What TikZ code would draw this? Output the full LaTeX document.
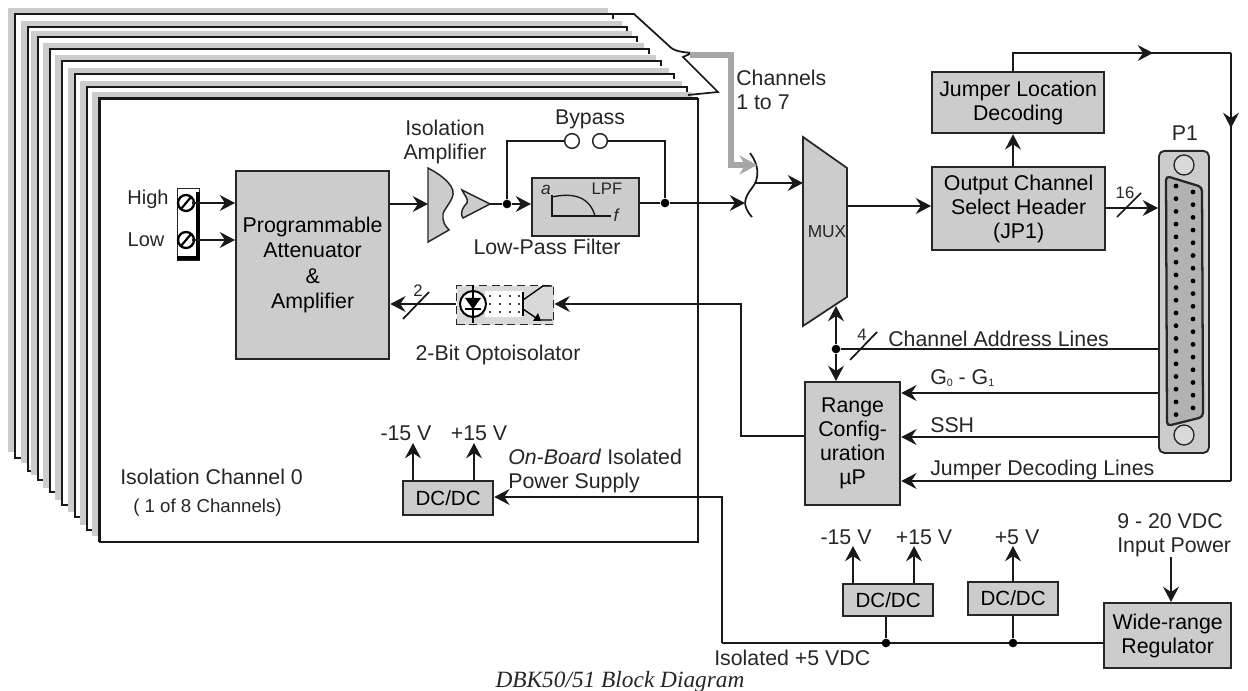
\documentclass[tikz,border=0pt]{standalone}
\usepackage{fontspec}
\setmainfont{Liberation Sans}
\newfontfamily\captionfont{Liberation Serif}
\usepackage{tikz}
\usetikzlibrary{
    positioning,
    arrows.meta,
    calc
}
\tikzset{
    % Grey function blocks
    block_node/.style={
        rectangle, draw=black!85, fill=black!20, line width=1.7pt,
        inner sep=0pt, align=center, anchor=north west
    },
    % Plain text labels
    label_node/.style={inner sep=0pt, align=center, text=black!85},
    left_label/.style={inner sep=0pt, align=left, anchor=west, text=black!85},
    dc_text/.style={font=\fontsize{15.4}{18}\selectfont},
    tiny_text/.style={font=\fontsize{12.5}{14}\selectfont},
    % One sheet of the channel stack
    sheet_back/.style={fill=black!20, draw=none},
    sheet_front/.style={fill=white, draw=none},
    sheet_edge/.style={draw=black!90, line width=1.5pt},
    % Signal lines
    signal_arrow/.style={-{Stealth[length=11.5pt,width=12pt,inset=4pt]}, line width=1.3pt, draw=black!90},
    signal_line/.style={line width=1.3pt, draw=black!90},
    power_arrow/.style={signal_arrow, line width=1.5pt},
    channel_arrow/.style={-{Stealth[length=13pt,width=14pt,inset=4pt]}, line width=4.2pt, draw=black!35},
    junction_node/.style={circle, fill=black, inner sep=0pt, minimum size=6.5pt},
    open_node/.style={circle, draw=black!85, fill=white, line width=1.1pt, inner sep=0pt, minimum size=11pt},
    pin_node/.style={circle, fill=black, inner sep=0pt, minimum size=3.6pt},
    screw_node/.style={circle, draw=black, fill=white, line width=1.7pt, inner sep=0pt, minimum size=12pt}
}
\begin{document}
\begin{tikzpicture}[x=0.75pt, y=-0.75pt, font=\fontsize{16}{18}\selectfont]
\useasboundingbox (0,0) rectangle (1248,691);

% --- STACK OF CHANNEL SHEETS ---
\foreach \ox/\oy/\ex/\gy/\by in {15/14/613/452/458, 28/27/627/463/471, 38/37/637/475/480, 50/49/649/488/492, 62/61/661/500/505, 75/74/674/512/517, 87/87/687/525/530, 99/98/697/536/541}{
    \fill[sheet_back] ({\ox-7},{\oy-6}) rectangle ({\ex-5},{\gy});
    \fill[sheet_front] ({\ox},{\oy}) rectangle (\ex,{\by+10});
    \draw[sheet_edge] (\ex,{\oy+5}) -- (\ex,\oy) -- (\ox,\oy) -- (\ox,\by) -- ({\ox+6},\by);
}
\node (front_sheet) [rectangle, draw=black!90, fill=white, line width=1.5pt, minimum width=448.5pt, minimum height=332.25pt, anchor=north west, inner sep=0pt] at (99,98) {};

% --- TERMINAL BLOCK ---
\node (term_box) [rectangle, draw=black!85, line width=0.9pt, minimum width=16.5pt, minimum height=54pt, anchor=north west, inner sep=0pt] at (177,188) {};
\draw[black, line width=3pt] (198,192) -- (198,258) -- (177,258);
\node (high_screw) [screw_node] at (186,203) {};
\node (low_screw) [screw_node] at (186,240) {};
\draw[black, line width=1.6pt] (181,209) -- (191,197) (181,246) -- (191,234);
\node (high_lbl) [label_node, font=\fontsize{15}{18}\selectfont] at (148,199) {High};
\node (low_lbl) [label_node, font=\fontsize{15}{18}\selectfont] at (146,240) {Low};

% --- MAIN BLOCKS ---
\node (atten) [block_node, minimum width=114.75pt, minimum height=141pt] at (235,170) {Programmable\\[1pt]Attenuator\\[1pt]\&\\[1pt]Amplifier};
\node (lpf) [block_node, minimum width=80.25pt, minimum height=43.5pt] at (531,177) {};
\node (out_sel) [block_node, minimum width=129.75pt, minimum height=62.25pt] at (931,166) {Output Channel\\Select Header\\(JP1)};
\node (jumper) [block_node, minimum width=129pt, minimum height=45.75pt] at (931,71) {Jumper Location\\Decoding};
\node (range) [block_node, minimum width=71.25pt, minimum height=92.25pt] at (804,381) {Range\\Config-\\uration\\\textmu P};
\node (iso_dc) [block_node, dc_text, minimum width=67.5pt, minimum height=25.5pt] at (402,480) {DC/DC};
\node (dc_a) [block_node, dc_text, minimum width=67.5pt, minimum height=24pt] at (842,583) {DC/DC};
\node (dc_b) [block_node, dc_text, minimum width=67.5pt, minimum height=24.75pt] at (967,581) {DC/DC};
\node (regulator) [block_node, minimum width=95.25pt, minimum height=48.75pt] at (1103,602) {Wide-range\\Regulator};

% MUX outline
\draw[draw=black!85, fill=black!20, line width=1.3pt] (803,137) -- (847,168) -- (847,297) -- (803,326) -- cycle;
\node (mux_lbl) [label_node, font=\fontsize{13}{18}\selectfont] at (827,232) {MUX};

% --- ISOLATION AMPLIFIER ---
\coordinate (amp_in) at (428,204);
\coordinate (amp_out) at (490,204);
\draw[draw=black!85, fill=black!20, line width=1.1pt] (428,168) .. controls (445,177) and (457,188) .. (452,198) .. controls (448,207) and (441,212) .. (443,219) .. controls (444,226) and (448,228) .. (449,230) -- (428,242) -- cycle;
\draw[draw=black!85, fill=black!20, line width=1.1pt] (462,190) -- (490,204) -- (463,218) .. controls (459,212) and (464,206) .. (467,203) .. controls (469,199) and (464,195) .. (462,190) -- cycle;
\node (amp_lbl) [label_node] at (445,142) {Isolation\\Amplifier};

% --- LOW-PASS FILTER DETAIL ---
\node (lpf_tag) [label_node, tiny_text] at (607,189) {LPF};
\node (lpf_a) [label_node, font=\fontsize{13}{14}\selectfont\itshape] at (546,190) {a};
\node (lpf_f) [label_node, font=\fontsize{13}{14}\selectfont\itshape] at (616,215) {f};
\draw[black!90, line width=1pt] (552,195) -- (552,216) -- (611,216);
\draw[black!90, line width=1pt] (552,197) .. controls (575,192) and (590,198) .. (595,216);
\node (lpf_lbl) [label_node] at (547,247) {Low-Pass Filter};

% --- BYPASS SWITCH ---
\node (byp_a) [open_node] at (572,141) {};
\node (byp_b) [open_node] at (600,141) {};
\node (byp_lbl) [label_node] at (590,119) {Bypass};
\node (dot_in) [junction_node] at (507,204) {};
\node (dot_out) [junction_node] at (665,203) {};

% --- OPTOISOLATOR ---
\node (opto) [rectangle, draw=black!85, fill=black!15, dashed, dash pattern=on 6pt off 3.5pt, line width=1.1pt, minimum width=72.75pt, minimum height=29.25pt, anchor=north west, inner sep=0pt] at (456,285) {};
\fill[white] (485,291) rectangle (523,317);
\foreach \px in {490,500,510,519}{
    \foreach \py in {296,304,312}{
        \fill[black] (\px,\py) circle (0.8pt);
    }
}
\node (opto_led) [circle, draw=black, fill=white, line width=1.5pt, minimum size=19.5pt, inner sep=0pt] at (473,304) {};
\draw[black, line width=1pt] (473,285) -- (473,323);
\fill[black] (465,298) -- (481,298) -- (473,309) -- cycle;
\draw[black, line width=1.5pt] (465,309) -- (481,309);
\draw[black, line width=1.8pt] (523,292) -- (523,316);
\draw[black, line width=1pt] (523,300) -- (543,286) -- (552,286);
\draw[black, line width=1pt] (523,309) -- (539,320) -- (552,320);
\fill[black] (541,321) -- (533,321) -- (538,313) -- cycle;
\node (opto_lbl) [label_node] at (498,355) {2-Bit Optoisolator};

% --- P1 CONNECTOR ---
\node (p1) [rectangle, rounded corners=4pt, draw=black!85, fill=black!20, line width=1.4pt, minimum width=37.5pt, minimum height=226.5pt, anchor=north west, inner sep=0pt] at (1158,150) {};
\node (p1_lbl) [label_node] at (1185,133) {P1};
\node (p1_top) [circle, draw=black!85, fill=black!15, line width=1pt, minimum size=15pt, inner sep=0pt] at (1184,165) {};
\node (p1_bot) [circle, draw=black!85, fill=black!15, line width=1pt, minimum size=15pt, inner sep=0pt] at (1184,435) {};
\draw[draw=black!85, fill=black!30, line width=1.7pt, rounded corners=3pt] (1166,176) -- (1202,187) -- (1203,417) -- (1167,426) -- cycle;
\foreach \i in {0,...,18}{
    \node (pin_l\i) [pin_node] at (1176,{186+12.7*\i}) {};
}
\foreach \i in {0,...,17}{
    \node (pin_r\i) [pin_node] at (1193,{192+12.7*\i}) {};
}

% --- TEXT LABELS ---
\node (chan_lbl) [left_label] at (736,90) {Channels\\1 to 7};
\node (addr_lbl) [left_label] at (888,339) {Channel Address Lines};
\node (gain_lbl) [left_label] at (930,378) {G{\fontsize{8}{8}\selectfont\raisebox{-2pt}{0}} - G{\fontsize{8}{8}\selectfont\raisebox{-2pt}{1}}};
\node (ssh_lbl) [left_label] at (930,425) {SSH};
\node (dec_lbl) [left_label] at (930,470) {Jumper Decoding Lines};
\node (sheet_lbl) [left_label] at (120,477) {Isolation Channel 0};
\node (sheet_sub) [left_label, font=\fontsize{14}{16}\selectfont] at (133,508) {( 1 of 8 Channels)};
\node (supply_lbl) [left_label] at (508,471) {\textit{On-Board} Isolated\\Power Supply};
\node (iso5_lbl) [left_label] at (714,658) {Isolated +5 VDC};
\node (neg_iso) [label_node] at (406,433) {-15 V};
\node (pos_iso) [label_node] at (479,433) {+15 V};
\node (neg_main) [label_node] at (846,537) {-15 V};
\node (pos_main) [label_node] at (924,537) {+15 V};
\node (five_main) [label_node] at (1017,537) {+5 V};
\node (input_lbl) [left_label] at (1117,535) {9 - 20 VDC\\Input Power};
\node (caption) [label_node, font=\captionfont\itshape\fontsize{17.5}{20}\selectfont] at (620,682) {DBK50/51 Block Diagram};

% --- MERGE CURVE AND CHANNEL BRACKET ---
\coordinate (merge_top) at (750,153);
\coordinate (merge_bot) at (752,217);
\coordinate (merge_in) at (745,203);
\coordinate (merge_up) at (757,165);
\coordinate (merge_out) at (755,183);
\draw[signal_line] (merge_top) .. controls (759,165) and (760,178) .. (752,188) .. controls (745,197) and (741,205) .. (merge_bot);
\draw[signal_line] (613,14) -- (634,14) -- (668,45) .. controls (674,52) and (683,52) .. (692,53) -- (683,57) -- (718,92) -- (688,95);
\draw[channel_arrow] (690,55) -- (731,55) -- (731,165) -- (merge_up);

% --- EDGE ROUTING ---
\draw[signal_arrow] (high_screw) ++(6,0) -- (high_screw -| atten.west);
\draw[signal_arrow] (low_screw) ++(6,0) -- (low_screw -| atten.west);
\draw[signal_arrow] (amp_in -| atten.east) -- (amp_in);
\draw[signal_line] (amp_out) -- (dot_in);
\draw[signal_arrow] (dot_in) -- (dot_in -| lpf.west);
\draw[signal_line] (dot_in) |- (byp_a);
\draw[signal_line] (byp_b) -| (dot_out);
\draw[signal_line] (dot_out -| lpf.east) -- (dot_out);
\draw[signal_arrow] (dot_out) -- (merge_in);
\draw[signal_arrow] (merge_out) -- (803,183);

\draw[signal_arrow] (847,206) -- (out_sel.west |- 847,206);
\draw[power_arrow] (out_sel.north -| 1013,0) -- (jumper.south -| 1013,0);
\coordinate (bus_top) at (1231,53);
\draw[signal_line] (1013,71) -- (1013,53) -- (bus_top);
\draw[signal_arrow] (1013,53) -- (1153,53);
\draw[signal_line, line width=1.5pt] (bus_top) -- (1231,481);
\draw[signal_arrow, line width=1.5pt] (bus_top) -- (1231,128);
\draw[signal_arrow] (1231,481) -- (range.east |- 1231,481);

\draw[signal_arrow] (out_sel.east |- 0,208) -- (p1.west |- 0,208);
\draw[signal_line] (1117,217) -- (1141,193);
\node (bus16_lbl) [label_node, tiny_text] at (1125,193) {16};

\coordinate (addr_dot) at (836,349);
\node (addr_node) [junction_node] at (addr_dot) {};
\draw[signal_arrow] (addr_node) -- (836,306);
\draw[signal_arrow] (addr_node) -- (range.north -| addr_node);
\draw[signal_line] (addr_node) -- (p1.west |- addr_node);
\draw[signal_line] (850,360) -- (877,332);
\node (bus4_lbl) [label_node, tiny_text] at (862,335) {4};

\draw[signal_arrow] (p1.west |- 0,393) -- (range.east |- 0,393);
\draw[signal_arrow] (p1.west |- 0,437) -- (range.east |- 0,437);

\coordinate (range_up) at (741,304);
\draw[signal_arrow] (range.west |- 0,436) -| (range_up) -- (opto.east |- range_up);
\draw[signal_arrow] (opto.west |- range_up) -- (atten.east |- range_up);
\draw[signal_line] (403,319) -- (429,292);
\node (bus2_lbl) [label_node, tiny_text] at (418,291) {2};

\coordinate (feed_corner) at (722,643);
\draw[signal_line] (regulator.west |- feed_corner) -- (feed_corner);
\draw[signal_arrow] (feed_corner) -- (722,497) -- (iso_dc.east |- 0,497);
\node (dot_a) [junction_node] at (886,643) {};
\node (dot_b) [junction_node] at (1013,643) {};
\draw[signal_line, line width=1.5pt] (dot_a) -- (dot_a |- dc_a.south);
\draw[signal_line, line width=1.5pt] (dot_b) -- (dot_b |- dc_b.south);

\draw[power_arrow] (413,480) -- (413,443);
\draw[power_arrow] (474,480) -- (474,443);
\draw[power_arrow] (853,583) -- (853,546);
\draw[power_arrow] (914,583) -- (914,546);
\draw[power_arrow] (1013,581) -- (1013,546);
\draw[power_arrow] (1171,557) -- (1171,602);

\end{tikzpicture}
\end{document}
